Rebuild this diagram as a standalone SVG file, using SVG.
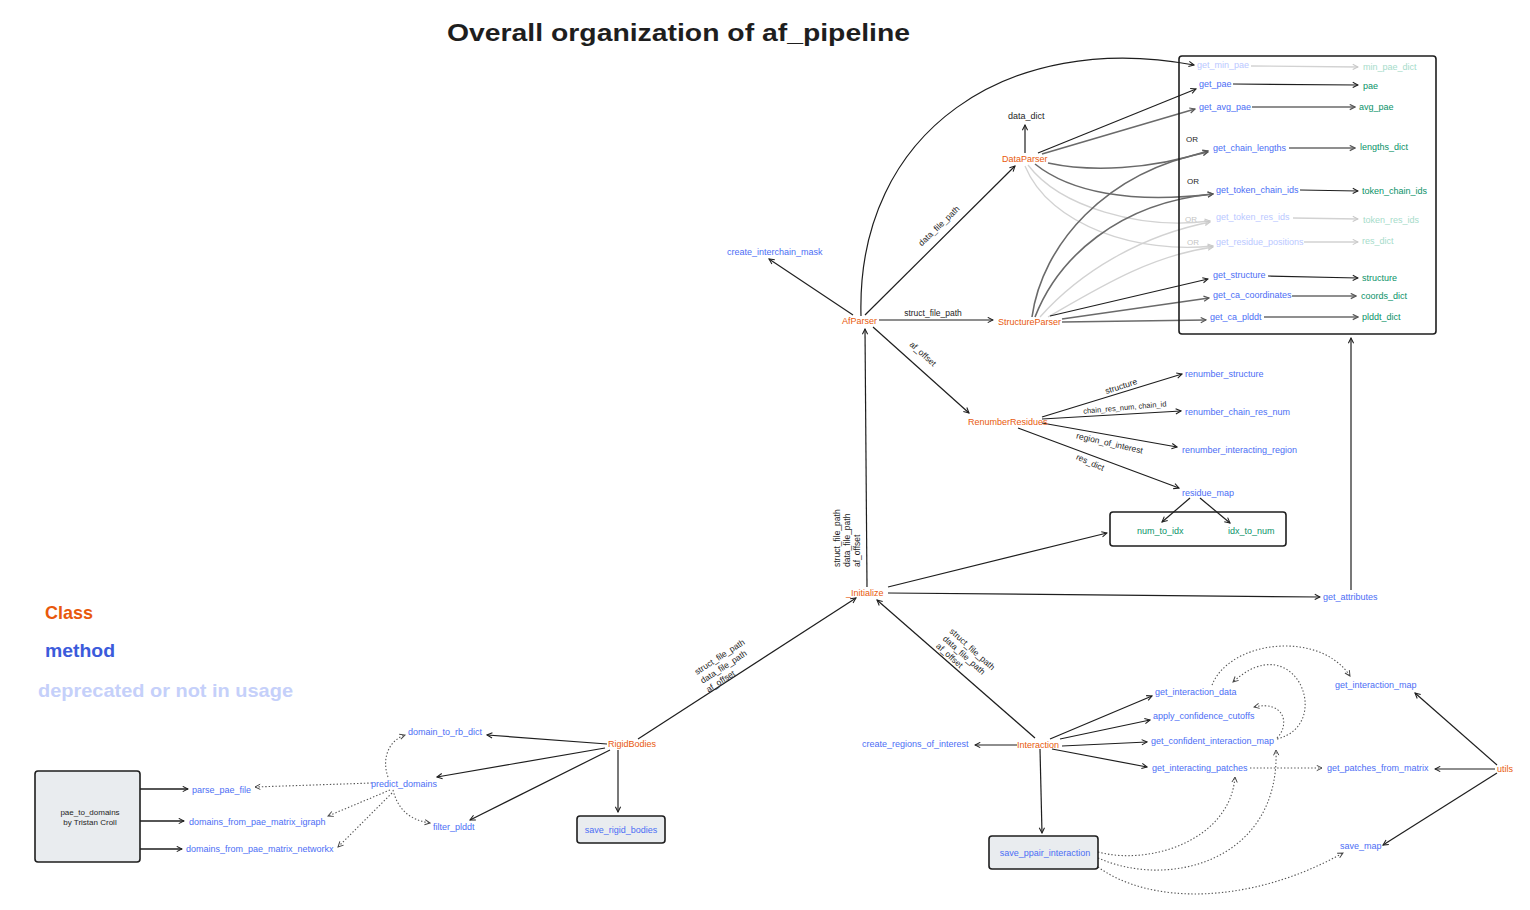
<svg xmlns="http://www.w3.org/2000/svg" width="1530" height="910" viewBox="0 0 1530 910">
<defs>
<style>
text{font-family:"Liberation Sans",Arial,sans-serif;font-size:9px}
.c{fill:#e8590c}
.m{fill:#4c6ef5}
.o{fill:#099268}
.x{fill:#bac8ff}
.y{fill:#a6dcca}
.k{fill:#1e1e1e}
.lk{fill:#c4c4c4}
.lbl{font-size:8.5px;fill:#1e1e1e}
.e{fill:none;stroke:#1e1e1e;stroke-width:1.2;marker-end:url(#ab)}
.g{fill:none;stroke:#6a6a6a;stroke-width:1.6;marker-end:url(#ag)}
.l{fill:none;stroke:#d2d2d2;stroke-width:1.3;marker-end:url(#al)}
.d{fill:none;stroke:#555;stroke-width:1.1;stroke-dasharray:1.4 2;marker-end:url(#ad)}
.box{fill:#e9ecef;stroke:#1e1e1e;stroke-width:1.6}
.frame{fill:none;stroke:#1e1e1e;stroke-width:1.6}
</style>
<marker id="ab" viewBox="0 0 8 8" refX="7" refY="4" markerWidth="7" markerHeight="7" markerUnits="userSpaceOnUse" orient="auto"><path d="M1,1 L7,4 L1,7" fill="none" stroke="#1e1e1e" stroke-width="1.2"/></marker>
<marker id="ag" viewBox="0 0 8 8" refX="7" refY="4" markerWidth="7" markerHeight="7" markerUnits="userSpaceOnUse" orient="auto"><path d="M1,1 L7,4 L1,7" fill="none" stroke="#555" stroke-width="1.3"/></marker>
<marker id="al" viewBox="0 0 8 8" refX="7" refY="4" markerWidth="7" markerHeight="7" markerUnits="userSpaceOnUse" orient="auto"><path d="M1,1 L7,4 L1,7" fill="none" stroke="#c8c8c8" stroke-width="1.2"/></marker>
<marker id="ad" viewBox="0 0 8 8" refX="7" refY="4" markerWidth="7" markerHeight="7" markerUnits="userSpaceOnUse" orient="auto"><path d="M1,1 L7,4 L1,7" fill="none" stroke="#444" stroke-width="1.1"/></marker>
</defs>
<rect width="1530" height="910" fill="#ffffff"/>

<text x="447" y="41" textLength="463" lengthAdjust="spacingAndGlyphs" style="font-size:24px;font-weight:bold" class="k">Overall organization of af_pipeline</text>

<g id="legend">
<text x="45" y="619" textLength="48" lengthAdjust="spacingAndGlyphs" style="font-size:19px;font-weight:bold" class="c">Class</text>
<text x="45" y="657" textLength="70" lengthAdjust="spacingAndGlyphs" style="font-size:19px;font-weight:bold;fill:#3b5bdb">method</text>
<text x="38" y="697" textLength="255" lengthAdjust="spacingAndGlyphs" style="font-size:19px;font-weight:bold;fill:#c5d0fa">deprecated or not in usage</text>
</g>

<g id="connectors">
<!-- AfParser -->
<path class="e" d="M853,315 L769,259"/>
<path class="e" d="M861,316 C856,130 1010,30 1194,65"/>
<path class="e" d="M865,315 L1015,166"/>
<path class="e" d="M879,320 L993,320"/>
<path class="e" d="M873,327 L969,413"/>
<!-- DataParser -->
<path class="e" d="M1025,153 L1025,125"/>
<path class="e" d="M1038,153 L1196,89"/>
<path class="g" d="M1042,154 L1195,109"/>
<path class="g" d="M1048,163 C1090,172 1150,170 1208,151"/>
<path class="g" d="M1035,164 C1070,192 1130,204 1213,194"/>
<path class="l" d="M1028,165 C1060,207 1140,230 1210,221"/>
<path class="l" d="M1025,166 C1050,227 1140,254 1213,246"/>
<!-- StructureParser -->
<path class="g" d="M1032,317 C1042,245 1105,172 1208,152"/>
<path class="g" d="M1035,317 C1058,258 1118,203 1213,194"/>
<path class="l" d="M1040,317 C1080,272 1140,236 1210,222"/>
<path class="l" d="M1048,317 C1100,287 1150,256 1213,247"/>
<path class="e" d="M1050,316 L1208,279"/>
<path class="g" d="M1062,319 L1209,298"/>
<path class="g" d="M1062,322 L1206,320"/>
<!-- rows in frame -->
<path class="l" d="M1251,66 L1358,67"/>
<path class="e" d="M1233,84 L1358,85"/>
<path class="g" d="M1252,107 L1355,107"/>
<path class="g" d="M1289,148 L1355,148"/>
<path class="e" d="M1300,190 L1358,191"/>
<path class="l" d="M1293,218 L1358,219"/>
<path class="l" d="M1304,242 L1358,242"/>
<path class="e" d="M1268,276 L1358,278"/>
<path class="g" d="M1292,296 L1356,296"/>
<path class="g" d="M1264,317 L1358,317"/>
<!-- RenumberResidues -->
<path class="e" d="M1042,417 L1182,374"/>
<path class="e" d="M1042,419 L1181,411"/>
<path class="e" d="M1042,423 L1177,447"/>
<path class="e" d="M1018,428 L1179,488"/>
<path class="e" d="M1190,498 L1162,522"/>
<path class="e" d="M1200,498 L1230,523"/>
<!-- _initialize -->
<path class="e" d="M867,587 L865,329"/>
<path class="e" d="M888,587 L1107,533"/>
<path class="e" d="M888,593 L1320,597"/>
<path class="e" d="M1351,590 L1351,338"/>
<path class="e" d="M638,739 L856,598"/>
<path class="e" d="M1035,738 L877,600"/>
<!-- RigidBodies -->
<path class="e" d="M607,744 L487,735"/>
<path class="e" d="M605,748 L437,777"/>
<path class="e" d="M610,750 L470,820"/>
<path class="e" d="M618,750 L618,812"/>
<path class="d" d="M388,777 C381,757 390,740 405,735"/>
<path class="d" d="M372,783 L255,787"/>
<path class="d" d="M390,790 L328,816"/>
<path class="d" d="M392,793 L338,847"/>
<path class="d" d="M393,790 C398,810 410,820 430,823"/>
<path class="e" style="stroke-width:1.6" d="M140,789 L188,789"/>
<path class="e" style="stroke-width:1.6" d="M140,821 L184,821"/>
<path class="e" style="stroke-width:1.6" d="M140,849 L182,849"/>
<!-- Interaction -->
<path class="e" d="M1017,745 L975,745"/>
<path class="e" d="M1050,739 L1152,696"/>
<path class="e" d="M1060,739 L1150,720"/>
<path class="e" d="M1062,746 L1147,742"/>
<path class="e" d="M1052,749 L1147,767"/>
<path class="e" d="M1040,749 L1042,833"/>
<path class="d" d="M1212,685 C1230,640 1320,630 1350,676"/>
<path class="d" d="M1277,739 C1335,725 1295,625 1233,682"/>
<path class="d" d="M1277,738 C1290,725 1285,700 1254,707"/>
<path class="d" d="M1250,768 L1322,768"/>
<path class="d" d="M1098,852 C1150,866 1230,840 1235,777"/>
<path class="d" d="M1098,858 C1170,890 1280,860 1276,750"/>
<path class="d" d="M1098,867 C1150,905 1250,905 1343,853"/>
<!-- utils -->
<path class="e" d="M1497,765 L1415,693"/>
<path class="e" d="M1495,769 L1435,769"/>
<path class="e" d="M1497,773 L1383,845"/>
</g>

<g id="edge-labels">
<text class="lbl" transform="translate(941,228) rotate(-44)" text-anchor="middle">data_file_path</text>
<text class="lbl" x="933" y="316" text-anchor="middle">struct_file_path</text>
<text class="lbl" transform="translate(921,356) rotate(42)" text-anchor="middle">af_offset</text>
<text class="lbl" transform="translate(1122,389) rotate(-18)" text-anchor="middle">structure</text>
<text class="lbl" transform="translate(1125,410) rotate(-5)" text-anchor="middle" style="font-size:7.5px">chain_res_num, chain_id</text>
<text class="lbl" transform="translate(1109,446) rotate(13)" text-anchor="middle">region_of_interest</text>
<text class="lbl" transform="translate(1089,465) rotate(24)" text-anchor="middle">res_dict</text>
<text class="lbl" transform="rotate(-90 840 567)"><tspan x="840" y="567">struct_file_path</tspan><tspan x="840" y="577">data_file_path</tspan><tspan x="840" y="587">af_offset</tspan></text>
<text class="lbl" transform="translate(697,675) rotate(-33)"><tspan x="0" y="0">struct_file_path</tspan><tspan x="0" y="10.5">data_file_path</tspan><tspan x="0" y="21">af_offset</tspan></text>
<text class="lbl" transform="translate(949,632) rotate(42)"><tspan x="0" y="0">struct_file_path</tspan><tspan x="0" y="10">data_file_path</tspan><tspan x="0" y="20">af_offset</tspan></text>
</g>

<g id="AfParser"><text class="c" x="842" y="324">AfParser</text></g>
<g id="create_interchain_mask"><text class="m" x="727" y="255">create_interchain_mask</text></g>
<g id="DataParser"><text class="c" x="1002" y="162">DataParser</text></g>
<g id="data_dict"><text class="k" x="1008" y="119">data_dict</text></g>
<g id="StructureParser"><text class="c" x="998" y="325">StructureParser</text></g>

<g id="outputs-frame">
<rect class="frame" x="1179" y="56" width="257" height="278" rx="3"/>
<text class="x" x="1197" y="68">get_min_pae</text>
<text class="y" x="1363" y="70">min_pae_dict</text>
<text class="m" x="1199" y="87">get_pae</text>
<text class="o" x="1363" y="89">pae</text>
<text class="m" x="1199" y="110">get_avg_pae</text>
<text class="o" x="1359" y="110">avg_pae</text>
<text class="k" x="1186" y="142" style="font-size:8px">OR</text>
<text class="m" x="1213" y="151">get_chain_lengths</text>
<text class="o" x="1360" y="150">lengths_dict</text>
<text class="k" x="1187" y="184" style="font-size:8px">OR</text>
<text class="m" x="1216" y="193">get_token_chain_ids</text>
<text class="o" x="1362" y="194">token_chain_ids</text>
<text class="lk" x="1185" y="222" style="font-size:8px">OR</text>
<text class="x" x="1216" y="220">get_token_res_ids</text>
<text class="y" x="1363" y="223">token_res_ids</text>
<text class="lk" x="1187" y="245" style="font-size:8px">OR</text>
<text class="x" x="1216" y="245">get_residue_positions</text>
<text class="y" x="1362" y="244">res_dict</text>
<text class="m" x="1213" y="278">get_structure</text>
<text class="o" x="1362" y="281">structure</text>
<text class="m" x="1213" y="298">get_ca_coordinates</text>
<text class="o" x="1361" y="299">coords_dict</text>
<text class="m" x="1210" y="320">get_ca_plddt</text>
<text class="o" x="1362" y="320">plddt_dict</text>
</g>

<g id="RenumberResidues"><text class="c" x="968" y="425">RenumberResidues</text></g>
<g id="renumber_structure"><text class="m" x="1185" y="377">renumber_structure</text></g>
<g id="renumber_chain_res_num"><text class="m" x="1185" y="415">renumber_chain_res_num</text></g>
<g id="renumber_interacting_region"><text class="m" x="1182" y="453">renumber_interacting_region</text></g>
<g id="residue_map"><text class="m" x="1182" y="496">residue_map</text></g>
<g id="residue_map_outputs">
<rect class="frame" x="1110" y="512" width="176" height="34" rx="3"/>
<text class="o" x="1137" y="534">num_to_idx</text>
<text class="o" x="1228" y="534">idx_to_num</text>
</g>

<g id="_initialize"><text class="c" x="846" y="596">_Initialize</text></g>
<g id="get_attributes"><text class="m" x="1323" y="600">get_attributes</text></g>

<g id="RigidBodies"><text class="c" x="608" y="747">RigidBodies</text></g>
<g id="domain_to_rb_dict"><text class="m" x="408" y="735">domain_to_rb_dict</text></g>
<g id="predict_domains"><text class="m" x="371" y="787">predict_domains</text></g>
<g id="filter_plddt"><text class="m" x="433" y="830">filter_plddt</text></g>
<g id="parse_pae_file"><text class="m" x="192" y="793">parse_pae_file</text></g>
<g id="domains_from_pae_matrix_igraph"><text class="m" x="189" y="825">domains_from_pae_matrix_igraph</text></g>
<g id="domains_from_pae_matrix_networkx"><text class="m" x="186" y="852">domains_from_pae_matrix_networkx</text></g>
<g id="pae_to_domains">
<rect class="box" x="35" y="771" width="105" height="91" rx="3"/>
<text class="k" x="90" y="815" text-anchor="middle" style="font-size:8px">pae_to_domains</text>
<text class="k" x="90" y="825" text-anchor="middle" style="font-size:8px">by Tristan Croll</text>
</g>
<g id="save_rigid_bodies">
<rect class="box" x="577" y="816" width="88" height="27" rx="3"/>
<text class="m" x="621" y="833" text-anchor="middle">save_rigid_bodies</text>
</g>

<g id="Interaction"><text class="c" x="1017" y="748">Interaction</text></g>
<g id="create_regions_of_interest"><text class="m" x="862" y="747">create_regions_of_interest</text></g>
<g id="get_interaction_data"><text class="m" x="1155" y="695">get_interaction_data</text></g>
<g id="apply_confidence_cutoffs"><text class="m" x="1153" y="719">apply_confidence_cutoffs</text></g>
<g id="get_confident_interaction_map"><text class="m" x="1151" y="744">get_confident_interaction_map</text></g>
<g id="get_interacting_patches"><text class="m" x="1152" y="771">get_interacting_patches</text></g>
<g id="get_patches_from_matrix"><text class="m" x="1327" y="771">get_patches_from_matrix</text></g>
<g id="get_interaction_map"><text class="m" x="1335" y="688">get_interaction_map</text></g>
<g id="utils"><text class="c" x="1497" y="772">utils</text></g>
<g id="save_map"><text class="m" x="1340" y="849">save_map</text></g>
<g id="save_ppair_interaction">
<rect class="box" x="989" y="836" width="109" height="33" rx="3"/>
<text class="m" x="1045" y="856" text-anchor="middle">save_ppair_interaction</text>
</g>
</svg>
